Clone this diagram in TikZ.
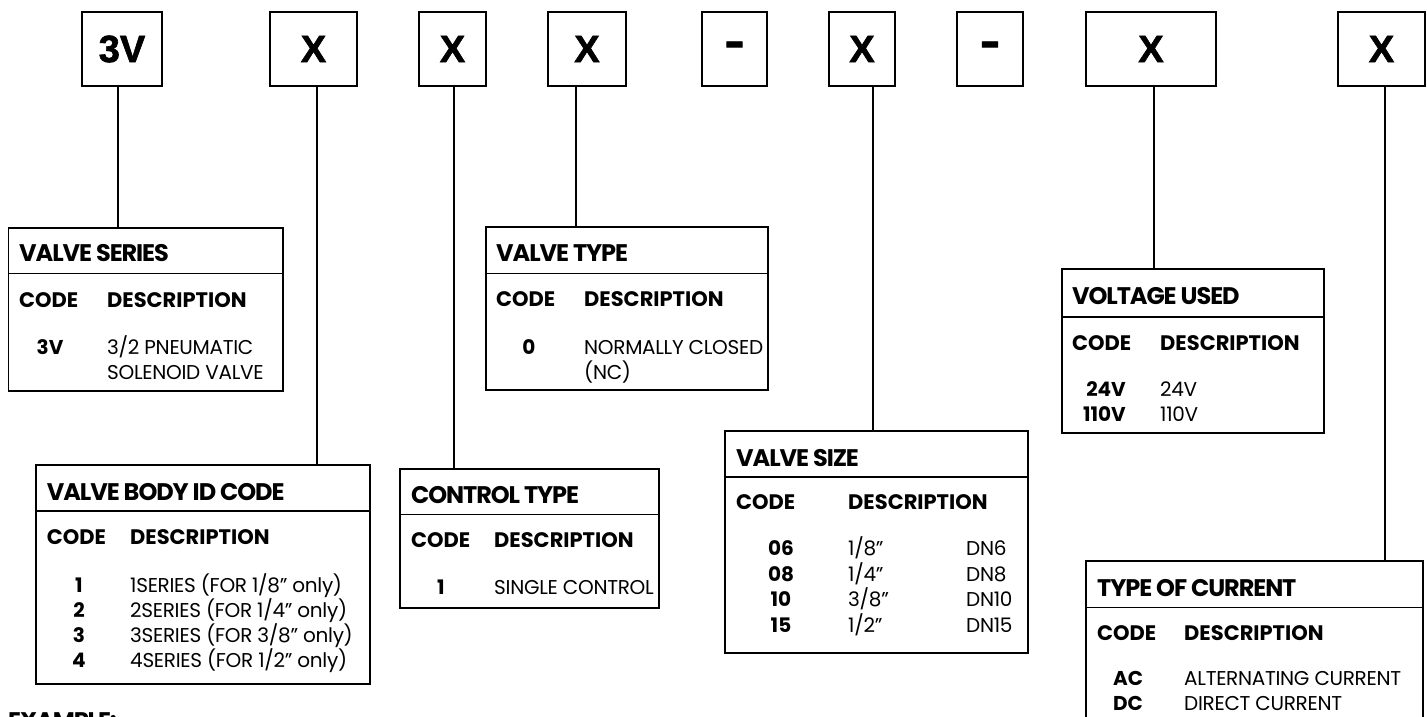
\documentclass[tikz,border=0pt]{standalone}
\usepackage{fontspec}
\setmainfont{Poppins}
\newfontfamily\titlefam{Poppins}[LetterSpace=-4.5]
\newfontfamily\descfam{Poppins}[LetterSpace=-1.5]
\newfontfamily\keyfam{Liberation Sans}[BoldFeatures={FakeBold=1.6}]
\tikzset{
  keybox/.style={draw, line width=1.6, inner sep=0, minimum height=74,
    font=\keyfam\bfseries\fontsize{38}{38}\selectfont},
  frame/.style={draw, line width=1.6, inner sep=0, anchor=north west},
  rule/.style={line width=1.6},
  conn/.style={line width=1.8},
  ttl/.style={anchor=west, inner sep=0, text height=16.7pt, text depth=0pt,
    font=\titlefam\bfseries\fontsize{24}{24}\selectfont},
  hdr/.style={anchor=west, inner sep=0, text height=14.7pt, text depth=0pt,
    font=\bfseries\fontsize{21}{21}\selectfont},
  desc/.style={anchor=west, inner sep=0, text height=14pt, text depth=0pt,
    font=\descfam\fontsize{20}{25}\selectfont},
  code/.style={inner sep=0, text height=14pt, text depth=0pt,
    font=\bfseries\fontsize{20}{25}\selectfont},
}
\begin{document}
\begin{tikzpicture}[x=1pt,y=-1pt]
\useasboundingbox (0,0) rectangle (1427,717);
\clip (0,0) rectangle (1427,717);

% part-number key boxes
\node[keybox, minimum width=80]  (k1) at (122,49)   {3V};
\node[keybox, minimum width=87]  (k2) at (313.5,49) {X};
\node[keybox, minimum width=67]  (k3) at (452.5,49) {X};
\node[keybox, minimum width=78]  (k4) at (587,49)   {X};
\node[keybox, minimum width=65]  (k5) at (734.5,49) {\scalebox{1.6}[1.2]{-}};
\node[keybox, minimum width=66]  (k6) at (862,49)   {X};
\node[keybox, minimum width=66]  (k7) at (990,49)   {\scalebox{1.6}[1.2]{-}};
\node[keybox, minimum width=130] (k8) at (1151,49)  {X};
\node[keybox, minimum width=87]  (k9) at (1381.5,49){X};

% VALVE SERIES
\node[frame, minimum width=274.5, minimum height=163] (vs) at (7.5,227) {};
\draw[rule] (vs.west |- 0,273.3) -- (vs.east |- 0,273.3);
\node[ttl] (vsT) at (19,253) {VALVE SERIES};
\node[hdr] (vsC) at (19,300) {CODE};
\node[hdr] (vsD) at (107,300) {DESCRIPTION};
\node[code] (vs1) at (50,347) {3V};
\node[desc] (vs1a) at (107,347) {3/2 PNEUMATIC};
\node[desc] (vs1b) at (107,372) {SOLENOID VALVE};

% VALVE BODY ID CODE
\node[frame, minimum width=334, minimum height=219] (vb) at (35,464) {};
\draw[rule] (vb.west |- 0,511) -- (vb.east |- 0,511);
\node[ttl] (vbT) at (46.7,491.7) {VALVE BODY ID CODE};
\node[hdr] (vbC) at (46.7,536.7) {CODE};
\node[hdr] (vbD) at (130,536.7) {DESCRIPTION};
\node[code] (vb1) at (79,585) {1};
\node[code] (vb2) at (79,610) {2};
\node[code] (vb3) at (79,635) {3};
\node[code] (vb4) at (79,660) {4};
\node[desc] (vb1d) at (130,585) {1SERIES (FOR 1/8” only)};
\node[desc] (vb2d) at (130,610) {2SERIES (FOR 1/4” only)};
\node[desc] (vb3d) at (130,635) {3SERIES (FOR 3/8” only)};
\node[desc] (vb4d) at (130,660) {4SERIES (FOR 1/2” only)};

% CONTROL TYPE
\node[frame, minimum width=259, minimum height=139] (ct) at (399,468) {};
\draw[rule] (ct.west |- 0,514.3) -- (ct.east |- 0,514.3);
\node[ttl] (ctT) at (411,495) {CONTROL TYPE};
\node[hdr] (ctC) at (411,540) {CODE};
\node[hdr] (ctD) at (494,540) {DESCRIPTION};
\node[code] (ct1) at (441,587) {1};
\node[desc] (ct1d) at (494,587) {SINGLE CONTROL};

% VALVE TYPE
\node[frame, minimum width=282, minimum height=163.3] (vt) at (485,226) {};
\draw[rule] (vt.west |- 0,273.3) -- (vt.east |- 0,273.3);
\node[ttl] (vtT) at (496,253) {VALVE TYPE};
\node[hdr] (vtC) at (496,299.5) {CODE};
\node[hdr] (vtD) at (584,299.5) {DESCRIPTION};
\node[code] (vt1) at (529,347) {0};
\node[desc] (vt1a) at (584,347) {NORMALLY CLOSED};
\node[desc] (vt1b) at (584,372) {(NC)};

% VALVE SIZE
\node[frame, minimum width=303, minimum height=222] (sz) at (724,430) {};
\draw[rule] (sz.west |- 0,476.7) -- (sz.east |- 0,476.7);
\node[ttl] (szT) at (736,458) {VALVE SIZE};
\node[hdr] (szC) at (736,502.5) {CODE};
\node[hdr] (szD) at (848,502.5) {DESCRIPTION};
\node[code] (sz1) at (781,548.5) {06};
\node[code] (sz2) at (781,574) {08};
\node[code] (sz3) at (781,599.5) {10};
\node[code] (sz4) at (781,625) {15};
\node[desc] (sz1a) at (848,548.5) {1/8”};
\node[desc] (sz2a) at (848,574) {1/4”};
\node[desc] (sz3a) at (848,599.5) {3/8”};
\node[desc] (sz4a) at (848,625) {1/2”};
\node[desc] (sz1b) at (966,548.5) {DN6};
\node[desc] (sz2b) at (966,574) {DN8};
\node[desc] (sz3b) at (966,599.5) {DN10};
\node[desc] (sz4b) at (966,625) {DN15};

% VOLTAGE USED
\node[frame, minimum width=262, minimum height=164] (vu) at (1061,268) {};
\draw[rule] (vu.west |- 0,316.7) -- (vu.east |- 0,316.7);
\node[ttl] (vuT) at (1072,296) {VOLTAGE USED};
\node[hdr] (vuC) at (1072,343.5) {CODE};
\node[hdr] (vuD) at (1160,343.5) {DESCRIPTION};
\node[code, anchor=east] (vu1) at (1126,389.5) {24V};
\node[code, anchor=east] (vu2) at (1126,414.5) {110V};
\node[desc] (vu1d) at (1160,389.5) {24V};
\node[desc] (vu2d) at (1160,414.5) {110V};

% TYPE OF CURRENT
\node[frame, minimum width=337, minimum height=180] (tc) at (1085,560) {};
\draw[rule] (tc.west |- 0,607.3) -- (tc.east |- 0,607.3);
\node[ttl] (tcT) at (1097,588.5) {TYPE OF CURRENT};
\node[hdr] (tcC) at (1097,633.5) {CODE};
\node[hdr] (tcD) at (1184,633.5) {DESCRIPTION};
\node[code] (tc1) at (1128,678.5) {AC};
\node[code] (tc2) at (1128,703.5) {DC};
\node[desc] (tc1d) at (1184,678.5) {ALTERNATING CURRENT};
\node[desc] (tc2d) at (1184,703.5) {DIRECT CURRENT};

% EXAMPLE heading at the foot
\node[ttl] (ex) at (8,721) {EXAMPLE:};

% connectors from key boxes down to their tables
\coordinate (x1) at (118,0);
\coordinate (x2) at (317,0);
\coordinate (x3) at (454,0);
\coordinate (x4) at (576,0);
\coordinate (x6) at (873,0);
\coordinate (x8) at (1154,0);
\coordinate (x9) at (1385,0);
\draw[conn] (k1.south -| x1) -- (vs.north -| x1);
\draw[conn] (k2.south -| x2) -- (vb.north -| x2);
\draw[conn] (k3.south -| x3) -- (ct.north -| x3);
\draw[conn] (k4.south -| x4) -- (vt.north -| x4);
\draw[conn] (k6.south -| x6) -- (sz.north -| x6);
\draw[conn] (k8.south -| x8) -- (vu.north -| x8);
\draw[conn] (k9.south -| x9) -- (tc.north -| x9);
\end{tikzpicture}
\end{document}
